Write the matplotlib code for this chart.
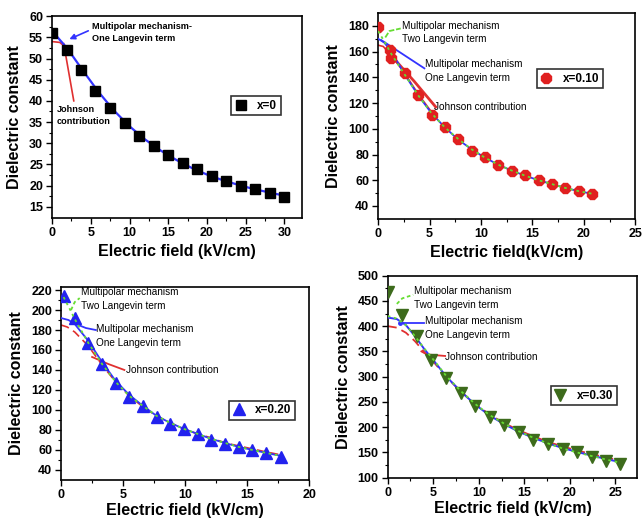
import matplotlib
matplotlib.use("Agg")
import matplotlib.pyplot as plt
from matplotlib.lines import Line2D

plt.rcParams['font.family'] = ['Liberation Sans', 'DejaVu Sans']

# ---------------- data ----------------
# x = 0
field_0 = [0, 1.9, 3.7, 5.6, 7.5, 9.4, 11.2, 13.1, 15.0, 16.9, 18.7, 20.6, 22.5, 24.4, 26.2, 28.1, 30.0]
eps_0 = [56.0, 52.0, 47.4, 42.3, 38.4, 34.8, 31.8, 29.3, 27.3, 25.4, 23.8, 22.3, 21.0, 19.9, 19.1, 18.2, 17.4]
fit1_x_0 = [0, 2, 4, 6, 8, 10, 12, 14, 16, 18, 20, 22, 24, 26, 28, 30]
fit1_y_0 = [56.5, 52.3, 47.1, 42.1, 37.7, 34.0, 30.9, 28.3, 26.1, 24.2, 22.6, 21.3, 20.2, 19.2, 18.4, 17.6]
john_x_0 = [0, 1.0, 2.0]
john_y_0 = [54.0, 53.8, 52.2]

# x = 0.10
field_1 = [0, 1.2, 1.3, 2.6, 3.9, 5.2, 6.5, 7.8, 9.1, 10.4, 11.7, 13.0, 14.3, 15.6, 16.9, 18.2, 19.5, 20.8]
eps_1 = [179, 161, 155, 143, 126, 111, 101, 92, 83, 78, 72, 67, 64, 60, 57, 54, 51.5, 49.5]
fit1_x_1 = [0, 0.6, 1.3, 2.6, 3.9, 5.2, 6.5, 7.8, 9.1, 10.4, 11.7, 13.0, 14.3, 15.6, 16.9, 18.2, 19.5, 20.8]
fit1_y_1 = [170, 167, 160, 142, 126, 112, 101, 91.5, 84, 77.5, 72, 67.5, 63.5, 60, 57, 54, 51.5, 49.5]
fit2_x_1 = [0, 0.6, 1.3, 2.6, 3.9, 5.2, 6.5, 7.8, 9.1, 10.4, 11.7, 13.0, 14.3, 15.6, 16.9, 18.2, 19.5, 20.8]
fit2_y_1 = [176, 168, 158, 142, 126, 112, 101, 92, 84, 77.5, 72, 67.5, 63.5, 60, 57, 54, 51.5, 49.5]
john_x_1 = [0, 0.5, 1.3, 2.6, 3.9, 5.2]
john_y_1 = [165, 164, 157, 143, 127, 113]

# x = 0.20
field_2 = [0.2, 1.1, 2.2, 3.3, 4.4, 5.5, 6.6, 7.7, 8.8, 9.9, 11.0, 12.1, 13.2, 14.3, 15.4, 16.5, 17.7]
eps_2 = [214, 192, 167, 146, 127, 113, 104, 93, 86, 81, 76, 70, 66, 63, 60, 57, 53]
fit1_x_2 = [0, 0.6, 1.1, 2.2, 3.3, 4.4, 5.5, 6.6, 7.7, 8.8, 9.9, 11.0, 12.1, 13.2, 14.3, 15.4, 16.5, 17.7]
fit1_y_2 = [192, 190, 186, 169, 148, 129, 115, 104, 94, 87, 81, 76, 71, 67, 63, 60, 57, 54]
fit2_x_2 = [0.2, 0.7, 1.1, 2.2, 3.3, 4.4, 5.5, 6.6, 7.7, 8.8, 9.9, 11.0, 12.1, 13.2, 14.3, 15.4, 16.5, 17.7]
fit2_y_2 = [213, 201, 191, 167, 146, 128, 114, 104, 94, 87, 81, 76, 71, 67, 63, 60, 57, 54]
john_x_2 = [0, 0.5, 1.1, 2.2, 3.3, 4.4, 5.5, 6.6, 7.7, 8.8, 9.9, 11.0, 12.1, 13.2, 14.3, 15.4, 16.5, 17.7]
john_y_2 = [185, 183, 178, 164, 145, 128, 114, 103, 94, 87, 81, 76, 72, 67, 64, 61, 58, 55]

# x = 0.30
field_3 = [0, 1.6, 3.2, 4.8, 6.4, 8.0, 9.6, 11.2, 12.8, 14.4, 16.0, 17.6, 19.2, 20.8, 22.4, 24.0, 25.5]
eps_3 = [468, 423, 380, 333, 297, 268, 242, 221, 205, 190, 175, 167, 156, 150, 142, 133, 127]
fit1_x_3 = [0, 1, 2, 3, 4, 5, 6.4, 8.0, 9.6, 11.2, 12.8, 14.4, 16.0, 17.6, 19.2, 20.8, 22.4, 24.0, 25.5]
fit1_y_3 = [417, 414, 402, 380, 355, 333, 301, 271, 245, 223, 206, 191, 179, 168, 159, 151, 144, 137, 131]
fit2_x_3 = [0, 1, 2, 3, 4, 5, 6.4, 8.0, 9.6, 11.2, 12.8, 14.4, 16.0, 17.6, 19.2, 20.8, 22.4, 24.0, 25.5]
fit2_y_3 = [420, 415, 402, 380, 356, 334, 302, 272, 246, 224, 207, 192, 179, 168, 158, 150, 143, 136, 130]
john_x_3 = [0, 1, 2, 3, 4, 5, 6.4, 8.0, 9.6, 11.2, 12.8, 14.4, 16.0, 17.6, 19.2, 20.8, 22.4, 24.0, 25.5]
john_y_3 = [400, 397, 387, 370, 349, 330, 300, 271, 246, 225, 208, 194, 182, 171, 162, 154, 147, 140, 134]

labels = ['x=0', 'x=0.10', 'x=0.20', 'x=0.30']

BLUE = '#3333ff'
RED = '#e03030'
GREEN = '#66dd33'

fig = plt.figure(figsize=(6.43, 5.21), dpi=100)

ax1 = fig.add_axes([0.081, 0.582, 0.389, 0.387])
ax2 = fig.add_axes([0.588, 0.580, 0.400, 0.395])
ax3 = fig.add_axes([0.095, 0.079, 0.386, 0.370])
ax4 = fig.add_axes([0.603, 0.083, 0.388, 0.388])

label_font = dict(fontsize=11.5, fontweight='bold')
tick_font = 9
ann_font = 7.2


def style(ax, xlim, ylim, xticks, yticks, xminor, yminor, xlabel, xpad):
    ax.set_xlim(*xlim)
    ax.set_ylim(*ylim)
    ax.set_xticks(xticks)
    ax.set_yticks(yticks)
    ax.set_xticks(xminor, minor=True)
    ax.set_yticks(yminor, minor=True)
    ax.tick_params(which='both', direction='out', top=False, right=False,
                   labelsize=tick_font)
    ax.tick_params(which='major', length=4, width=1, pad=2.5)
    ax.tick_params(which='minor', length=2, width=0.8)
    for lab in ax.get_xticklabels() + ax.get_yticklabels():
        lab.set_fontweight('bold')
    for sp in ax.spines.values():
        sp.set_linewidth(1.2)
    ax.set_xlabel(xlabel, labelpad=xpad, **label_font)
    ax.set_ylabel('Dielectric constant', labelpad=5, **label_font)


def legend(ax, marker, color, label, anchor, ms):
    h = Line2D([], [], linestyle='none', marker=marker, color=color,
               markersize=ms, markeredgecolor=color)
    lg = ax.legend([h], [label], loc='center', bbox_to_anchor=anchor,
                   frameon=True, fancybox=False, handlelength=1.0,
                   handletextpad=0.9, borderpad=0.3, borderaxespad=0,
                   prop=dict(size=8.5, weight='bold'))
    lg.get_frame().set_edgecolor('black')
    lg.get_frame().set_linewidth(1.2)


# ---- panel x=0 ----
ax1.plot(john_x_0, john_y_0, color=RED, lw=1.2, zorder=2)
ax1.plot(fit1_x_0, fit1_y_0, color=BLUE, lw=1.6, zorder=3)
ax1.plot(field_0, eps_0, linestyle='none', marker='s', color='black', ms=7, zorder=4)
ax1.annotate('', xy=(1.9, 54.3), xytext=(5.0, 56.8),
             arrowprops=dict(arrowstyle='-|>', color=BLUE, lw=1.2, mutation_scale=8))
ax1.text(5.2, 58.6, 'Multipolar mechanism-\nOne Langevin term', fontsize=6.6,
         fontweight='bold', va='top', linespacing=1.35)
ax1.plot([1.5, 2.8], [53.5, 40.0], color=RED, lw=1.2)
ax1.text(0.6, 39.0, 'Johnson\ncontribution', fontsize=6.6, fontweight='bold',
         va='top', linespacing=1.35)
style(ax1, (0, 32.3), (12.4, 60), range(0, 31, 5), range(15, 61, 5),
      [2.5 + 5 * i for i in range(6)], [17.5 + 5 * i for i in range(9)],
      'Electric field (kV/cm)', 4)
legend(ax1, 's', 'black', labels[0], (0.815, 0.555), 6.5)

# ---- panel x=0.10 ----
ax2.plot(john_x_1, john_y_1, color=RED, lw=1.2, zorder=2)
ax2.plot(fit1_x_1, fit1_y_1, color=BLUE, lw=1.3, zorder=3)
ax2.plot(field_1, eps_1, linestyle='none', marker='8', color='#e02020', ms=8, zorder=4)
ax2.plot(fit2_x_1, fit2_y_1, color=GREEN, lw=1.3, linestyle=(0, (1.5, 2)), zorder=5)
ax2.plot([0.7, 1.1, 2.2], [171, 176, 178], color=GREEN, lw=1.3, linestyle=(0, (3, 1)))
ax2.text(2.3, 184, 'Multipolar mechanism\nTwo Langevin term', fontsize=ann_font,
         va='top', linespacing=1.4)
ax2.plot([0.3, 4.5], [169, 147], color=BLUE, lw=1.3)
ax2.text(4.6, 154, 'Multipolar mechanism\nOne Langevin term', fontsize=ann_font,
         va='top', linespacing=1.4)
ax2.plot([1.6, 3.5, 5.6], [154, 137, 117], color=RED, lw=2.0)
ax2.text(5.4, 121, 'Johnson contribution', fontsize=ann_font, va='top')
style(ax2, (0, 25), (30, 190), range(0, 26, 5), range(40, 181, 20),
      [2.5 + 5 * i for i in range(5)], [50 + 20 * i for i in range(7)],
      'Electric field(kV/cm)', 4)
legend(ax2, '8', '#e02020', labels[1], (0.745, 0.68), 7.5)

# ---- panel x=0.20 ----
ax3.plot(john_x_2, john_y_2, color=RED, lw=1.2, linestyle=(0, (5, 3)), zorder=2)
ax3.plot(fit1_x_2, fit1_y_2, color=BLUE, lw=1.3, zorder=3)
ax3.plot(field_2, eps_2, linestyle='none', marker='^', color='#2222ee', ms=9, zorder=4)
ax3.plot(fit2_x_2, fit2_y_2, color=GREEN, lw=1.3, linestyle=(0, (1.5, 2)), zorder=5)
ax3.plot([0.8, 1.1, 1.5], [200, 208, 212], color=GREEN, lw=1.3, linestyle=(0, (2, 1.5)))
ax3.text(1.6, 223, 'Multipolar mechanism\nTwo Langevin term', fontsize=ann_font,
         va='top', linespacing=1.5)
ax3.plot([1.2, 2.0, 2.8], [186, 182, 180], color=BLUE, lw=1.3)
ax3.text(2.8, 186, 'Multipolar mechanism\nOne Langevin term', fontsize=ann_font,
         va='top', linespacing=1.5)
ax3.plot([2.5, 3.8, 5.1], [153, 146, 140], color=RED, lw=1.3)
ax3.text(5.2, 145, 'Johnson contribution', fontsize=ann_font, va='top')
style(ax3, (0, 20), (30, 223), range(0, 21, 5), range(40, 221, 20),
      [2.5 + 5 * i for i in range(4)], [50 + 20 * i for i in range(9)],
      'Electric field (kV/cm)', 1.5)
legend(ax3, '^', '#2222ee', labels[2], (0.81, 0.36), 8)

# ---- panel x=0.30 ----
ax4.plot(john_x_3, john_y_3, color=RED, lw=1.3, linestyle=(0, (5, 3)), zorder=2)
ax4.plot(fit1_x_3, fit1_y_3, color=BLUE, lw=1.4, zorder=3)
ax4.plot(field_3, eps_3, linestyle='none', marker='v', color='#3d6b1c', ms=9, zorder=4)
ax4.plot(fit2_x_3, fit2_y_3, color=GREEN, lw=1.3, linestyle=(0, (1.5, 2)), zorder=5)
ax4.plot([1.0, 1.6, 2.8], [444, 455, 462], color=GREEN, lw=1.3, linestyle=(0, (2, 1.5)))
ax4.text(2.9, 480, 'Multipolar mechanism\nTwo Langevin term', fontsize=ann_font,
         va='top', linespacing=1.5)
ax4.plot([1.3, 4.0], [407, 407], color=BLUE, lw=1.3, marker='o', ms=2.5, markevery=[0])
ax4.text(4.1, 420, 'Multipolar mechanism\nOne Langevin term', fontsize=ann_font,
         va='top', linespacing=1.5)
ax4.plot([3.7, 4.3, 6.3], [350, 344, 341], color=RED, lw=1.3)
ax4.text(6.3, 349, 'Johnson contribution', fontsize=ann_font, va='top')
style(ax4, (0, 27.4), (100, 500), range(0, 26, 5), range(100, 501, 50),
      [2.5 + 5 * i for i in range(5)], [125 + 50 * i for i in range(8)],
      'Electric field (kV/cm)', 1.5)
legend(ax4, 'v', '#3d6b1c', labels[3], (0.785, 0.405), 8)

fig.savefig('out.png', dpi=100)
